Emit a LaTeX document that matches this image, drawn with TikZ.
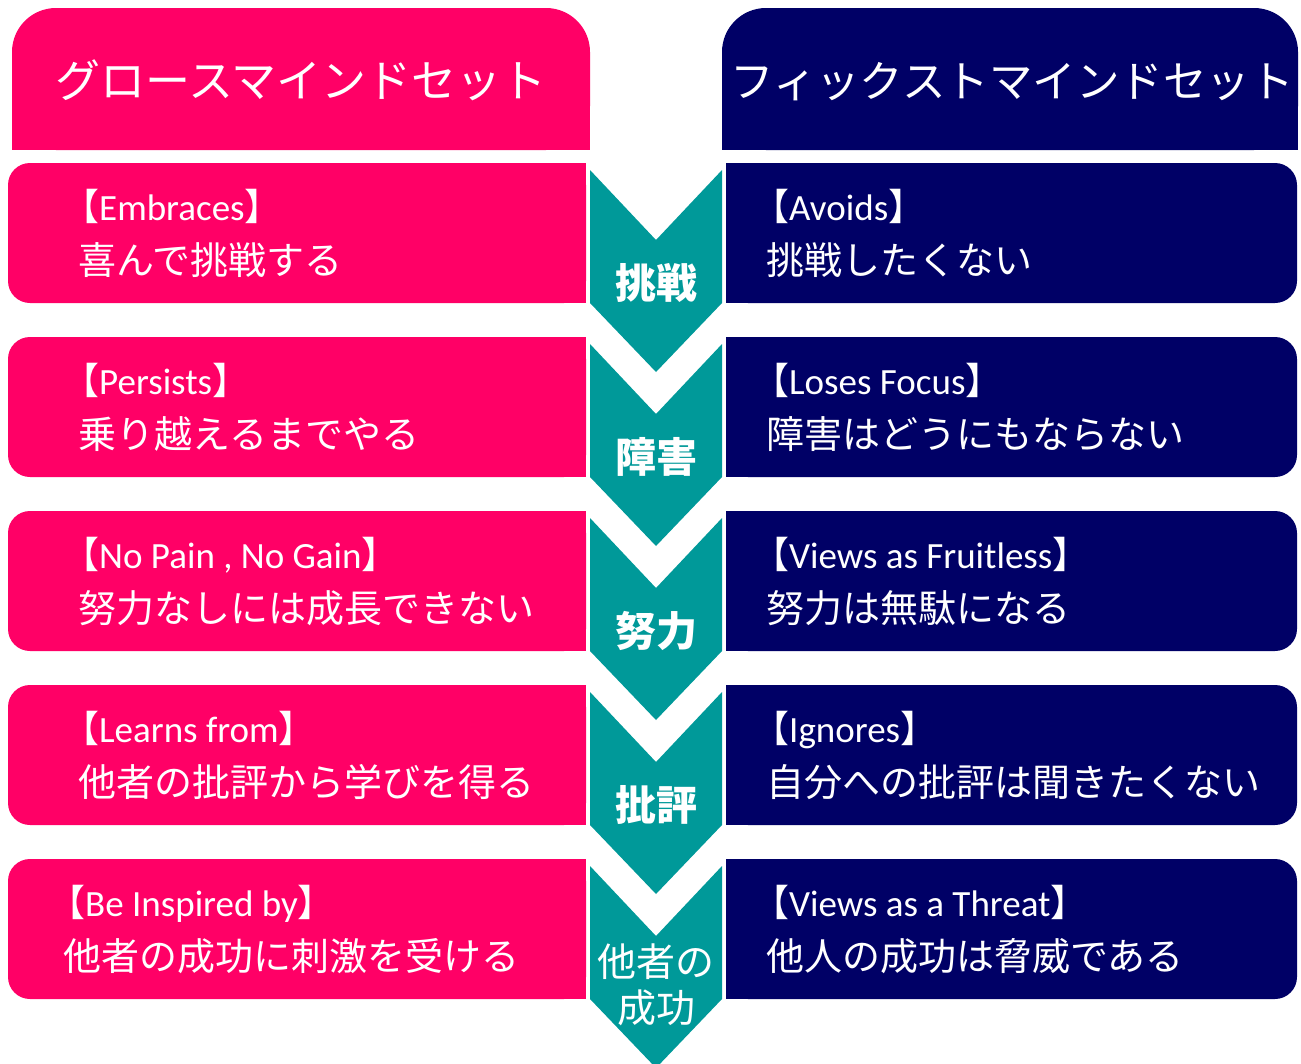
\documentclass[tikz,border=0pt]{standalone}
\usepackage{fontspec}
\setmainfont{Carlito}
\newfontfamily\jp{Noto Sans CJK JP}
\definecolor{pinkc}{HTML}{FF0066}
\definecolor{navyc}{HTML}{000066}
\definecolor{tealc}{HTML}{009999}
\tikzset{
  hdr/.style={text=white, inner sep=0pt, anchor=base, font=\jp\fontsize{45}{48}\selectfont},
  en/.style={text=white, inner sep=0pt, anchor=base west, font=\fontsize{37}{40}\selectfont},
  ja/.style={text=white, inner sep=0pt, anchor=base west, font=\jp\fontsize{38}{42}\selectfont},
  chev/.style={text=white, inner sep=0pt, anchor=base, font=\jp\bfseries\fontsize{41}{46}\selectfont},
}
\newcommand{\lb}{{\jp【}}
\newcommand{\rb}{{\jp】}}
\begin{document}
\begin{tikzpicture}[x=1pt,y=-1pt]
\useasboundingbox (0,0) rectangle (1301,1063);
\clip (0,0) rectangle (1301,1063);
% headers
\fill[pinkc, rounded corners=44] (12,8) rectangle (590,150);
\fill[pinkc] (12,80) rectangle (590,150);
\fill[navyc, rounded corners=44] (722,8) rectangle (1298,150);
\fill[navyc] (722,80) rectangle (1298,150);
\node[hdr] (hl) at (301,97) {グロースマインドセット};
\node[hdr, font=\jp\fontsize{43.5}{48}\selectfont] (hr) at (1012,97) {フィックストマインドセット};
% rows
\foreach \t in {163,337,511,685,859}{
  \fill[pinkc, rounded corners=22] (8,\t) rectangle (586,\t+140);
  \fill[pinkc] (300,\t) rectangle (586,\t+140);
  \fill[navyc, rounded corners=22] (726,\t) rectangle (1297,\t+140);
  \fill[navyc] (726,\t) rectangle (1000,\t+140);
}
% chevrons
\foreach \t in {170,344,518,692,866}{
  \fill[tealc] (590,\t) -- (656,\t+70) -- (722,\t) -- (722,\t+133) -- (656,\t+202) -- (590,\t+133) -- cycle;
}
% left texts
\node[en] (l1e) at (62,220) {\lb Embraces\rb};
\node[ja] (l1j) at (78,274) {喜んで挑戦する};
\node[en] (l2e) at (62,394) {\lb Persists\rb};
\node[ja] (l2j) at (78,448) {乗り越えるまでやる};
\node[en] (l3e) at (62,568) {\lb No Pain , No Gain\rb};
\node[ja] (l3j) at (78,622) {努力なしには成長できない};
\node[en] (l4e) at (62,742) {\lb Learns from\rb};
\node[ja] (l4j) at (78,796) {他者の批評から学びを得る};
\node[en] (l5e) at (48,916) {\lb Be Inspired by\rb};
\node[ja] (l5j) at (63,970) {他者の成功に刺激を受ける};
% right texts
\node[en] (r1e) at (752,220) {\lb Avoids\rb};
\node[ja] (r1j) at (766,274) {挑戦したくない};
\node[en] (r2e) at (752,394) {\lb Loses Focus\rb};
\node[ja] (r2j) at (766,448) {障害はどうにもならない};
\node[en] (r3e) at (752,568) {\lb Views as Fruitless\rb};
\node[ja] (r3j) at (766,622) {努力は無駄になる};
\node[en] (r4e) at (752,742) {\lb Ignores\rb};
\node[ja] (r4j) at (766,796) {自分への批評は聞きたくない};
\node[en] (r5e) at (752,916) {\lb Views as a Threat\rb};
\node[ja] (r5j) at (766,970) {他人の成功は脅威である};
% chevron labels
\node[chev] (c1) at (656,298) {挑戦};
\node[chev] (c2) at (656,472) {障害};
\node[chev] (c3) at (656,646) {努力};
\node[chev] (c4) at (656,820) {批評};
\node[chev, font=\jp\fontsize{39}{43}\selectfont] (c5a) at (656,976) {他者の};
\node[chev, font=\jp\fontsize{39}{43}\selectfont] (c5b) at (656,1022) {成功};
\end{tikzpicture}
\end{document}
